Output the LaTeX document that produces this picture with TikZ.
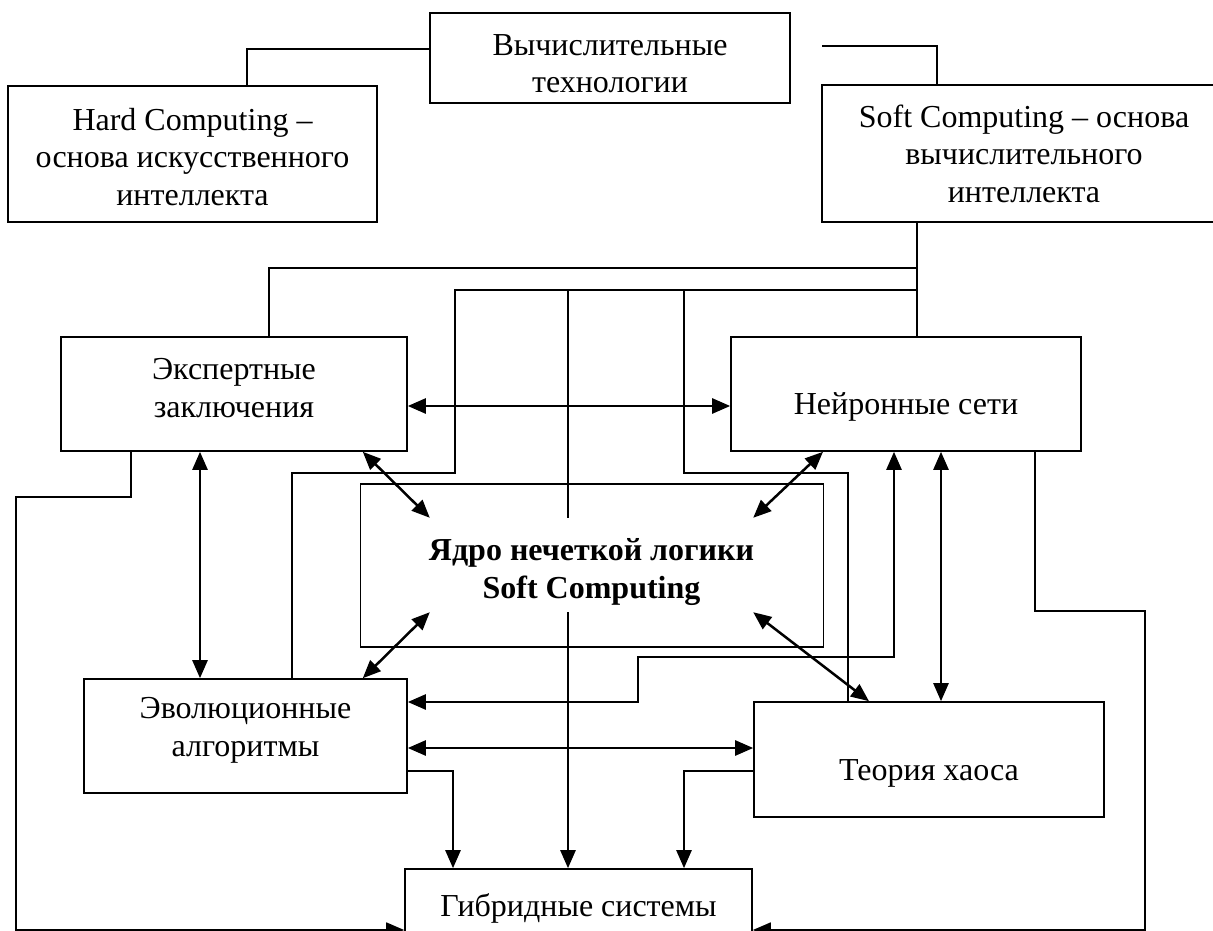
\documentclass[tikz,border=0pt]{standalone}
\usepackage{fontspec}
\setmainfont{Liberation Serif}
\usetikzlibrary{arrows.meta}

\begin{document}
\begin{tikzpicture}[x=1pt, y=-1pt, >={Triangle[length=18pt, width=15pt]},
    box/.style={draw, line width=1.6pt, inner sep=0pt},
    txt/.style={font=\fontsize{32pt}{37.5pt}\selectfont, align=center},
    boldtxt/.style={txt, font=\fontsize{32pt}{37.5pt}\selectfont\bfseries},
    link/.style={line width=1.6pt},
    arr/.style={line width=2.5pt}]
\useasboundingbox (0, 0) rectangle (1213, 931);

\node (vt) at (610, 58) [box, minimum width=360pt, minimum height=90pt, label={[txt, yshift=-5.5pt]center:Вычислительные\\технологии}] {};
\node (hard) at (192.5, 154) [box, minimum width=369pt, minimum height=136pt, label={[txt, yshift=-3pt]center:Hard Computing –\\основа искусственного\\интеллекта}] {};
\node (soft) at (1024, 153.5) [box, minimum width=404pt, minimum height=137pt, label={[txt]center:Soft Computing – основа\\вычислительного\\интеллекта}] {};
\node (expert) at (234, 394) [box, minimum width=346pt, minimum height=114pt, label={[txt, yshift=6pt]center:Экспертные\\заключения}] {};
\node (neural) at (906, 394) [box, minimum width=350pt, minimum height=114pt, label={[txt, yshift=-12.5pt]center:Нейронные сети}] {};
\node (core) at (592, 565.5) [box, minimum width=463pt, minimum height=163pt] {};
\node (coretx) at (591.5, 565) [inner sep=0pt, minimum width=323pt, minimum height=94pt, label={[boldtxt, yshift=-7pt]center:Ядро нечеткой логики\\Soft Computing}] {};
\node (evol) at (245.5, 736) [box, minimum width=323pt, minimum height=114pt, label={[txt, yshift=5.5pt]center:Эволюционные\\алгоритмы}] {};
\node (chaos) at (929, 759.5) [box, minimum width=350pt, minimum height=115pt, label={[txt, yshift=-14pt]center:Теория хаоса}] {};
\node (hybrid) at (578.5, 910) [box, minimum width=347pt, minimum height=82pt, label={[txt, yshift=2pt]center:Гибридные системы}] {};

\coordinate (vtend) at (822, 46);
\coordinate (bus1) at (917, 268);
\coordinate (bus2) at (917, 290);

\draw[link] ([yshift=9pt]vt.west) -| ([xshift=54.5pt]hard.north);
\draw[link] (vtend) -| ([xshift=-87pt]soft.north);
\draw[link] ([xshift=-107pt]soft.south) -- ([xshift=11pt]neural.north);
\draw[link] (bus1) -| ([xshift=35pt]expert.north);
\draw[link] (bus2) -| (455, 473) -| ([xshift=46.5pt]evol.north);
\draw[link] (568, 290) -- ([xshift=-23.5pt]coretx.north);
\draw[link] (684, 290) |- (848, 473) -- ([xshift=-81pt]chaos.north);

\draw[arr, <->] ([yshift=-12pt]expert.east) -- ([yshift=-12pt]neural.west);
\draw[arr, <->] ([xshift=-34pt]expert.south) -- ([xshift=-45.5pt]evol.north);
\draw[arr, <->] ([xshift=-45pt]expert.south east) -- (coretx.north west);
\draw[arr, <->] ([xshift=-83pt]neural.south) -- (coretx.north east);
\draw[arr, <->] (coretx.south west) -- ([xshift=-45pt]evol.north east);
\draw[arr, <->] (coretx.south east) -- ([xshift=-60pt]chaos.north);
\draw[arr, <->] ([xshift=-12pt]neural.south) |- (638, 657) |- ([yshift=34pt]evol.east);
\draw[arr, <->] ([xshift=35pt]neural.south) -- ([xshift=12pt]chaos.north);
\draw[arr, <->] ([yshift=-12pt]evol.east) -- ([yshift=11.5pt]chaos.west);
\draw[arr, ->] ([yshift=-35pt]evol.east) -| ([xshift=-125.5pt]hybrid.north);
\draw[arr, ->] ([xshift=-23.5pt]coretx.south) -- ([xshift=-10.5pt]hybrid.north);
\draw[arr, ->] ([yshift=-11.5pt]chaos.west) -| ([xshift=105.5pt]hybrid.north);
\draw[link, ->] ([xshift=-103pt]expert.south) |- (16, 497) |- ([yshift=-20pt]hybrid.west);
\draw[link, ->] ([xshift=129pt]neural.south) |- (1145, 611) |- ([yshift=-20pt]hybrid.east);
\end{tikzpicture}
\end{document}
